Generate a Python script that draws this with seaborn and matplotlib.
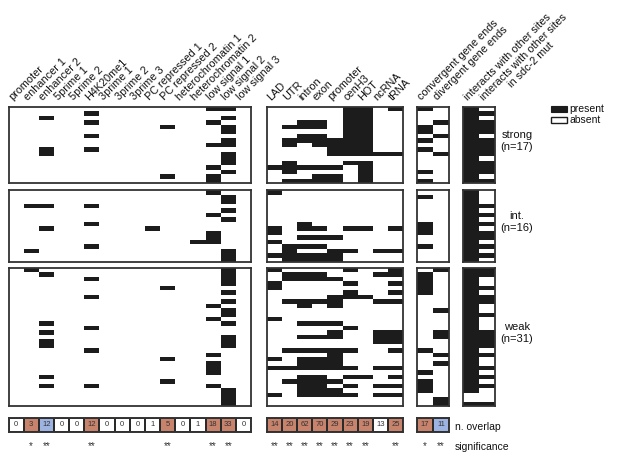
import numpy as np
import matplotlib
matplotlib.use("Agg")
import matplotlib.pyplot as plt
import seaborn as sns
from matplotlib.colors import ListedColormap
from matplotlib.patches import Rectangle

# ---------------- data ----------------
chrom_states = ["promoter", "enhancer 1", "enhancer 2", "5prime 1", "5prime 2", "H4K20me1",
                "3prime 1", "3prime 2", "3prime 3", "PC repressed 1", "PC repressed 2",
                "heterochromatin 1", "heterochromatin 2", "low signal 1", "low signal 2",
                "low signal 3"]
features = ["LAD", "UTR", "intron", "exon", "promoter", "cenH3", "HOT", "ncRNA", "tRNA"]
gene_ends = ["convergent gene ends", "divergent gene ends"]
interactions = ["interacts with other sites", "interacts with other sites\nin sdc-2 mut"]

row_groups = ["strong", "int.", "weak"]
row_counts = [17, 16, 31]

strong_chrom = ["0000000000000110", "0000010000000000", "0010000000000010", "0000010000000100",
                "0000000000100010", "0000000000000010", "0000010000000000", "0000000000000010",
                "0000000000000110", "0010010000000000", "0010000000000010", "0000000000000010",
                "0000000000000010", "0000000000000100", "0000000000000010", "0000000000100100",
                "0000000000000100"]
strong_feat = ["000001101", "000001100", "000001100", "001101100", "011101100", "000001100",
               "001101100", "011111100", "010111100", "000011100", "000011111", "000000000",
               "010001100", "111110100", "010000100", "000110100", "011110100"]
strong_ends = ["10", "00", "00", "01", "10", "10", "01", "10", "00", "10", "01", "00", "00",
               "00", "10", "00", "10"]
strong_inter = ["10", "11", "10", "11", "11", "11", "10", "11", "11", "11", "11", "10", "11",
                "11", "11", "10", "11"]

int_chrom = ["0000000000000100", "0000000000000010", "0000000000000010", "0110010000000000",
             "0000000000000010", "0000000000000100", "0000000000000010", "0000010000000000",
             "0010000001000000", "0000000000000100", "0000000000000100", "0000000000001100",
             "0000010000000000", "0100000000000010", "0000000000000010", "0000000000000010"]
int_feat = ["100000000", "000000000", "000000000", "000000000", "000000000", "000000000",
            "000000000", "001000000", "101101101", "100000000", "001110000", "100000000",
            "011100000", "010011011", "111110000", "011110000"]
int_ends = ["00", "10", "00", "00", "00", "00", "00", "10", "10", "10", "00", "00", "10", "00",
            "00", "00"]
int_inter = ["10", "10", "10", "11", "10", "11", "10", "11", "10", "11", "11", "10", "11", "10",
             "11", "10"]

weak_chrom = ["0100000000000010", "0010000000000010", "0000010000000010", "0000000000000010",
              "0000000000100000", "0000000000000010", "0000010000000000", "0000000000000010",
              "0000000000000100", "0000000000000010", "0000000000000010", "0000000000000100",
              "0010000000000010", "0000010000000000", "0010000000000000", "0000000000000010",
              "0010000000000010", "0010000000000010", "0000010000000000", "0000000000000100",
              "0000000000100000", "0000000000000100", "0000000000000100", "0000000000000100",
              "0010000000000000", "0000000000100000", "0010010000000100", "0000000000000010",
              "0000000000000010", "0000000000000010", "0000000000000010"]
weak_feat = ["100001001", "011100011", "011110000", "100001001", "100000000", "000001001",
             "000011100", "011110011", "001010000", "000000000", "000000000", "100000000",
             "001110000", "000001000", "000010011", "001110011", "000000011", "000000000",
             "011111001", "000010000", "101110000", "001110000", "111111011", "000000000",
             "001101101", "011110000", "001101011", "001110000", "101111011", "000000000",
             "000000000"]
weak_ends = ["01", "10", "10", "10", "10", "10", "00", "00", "00", "01", "00", "00", "00", "00",
             "01", "01", "00", "00", "10", "01", "00", "01", "00", "10", "00", "10", "10", "10",
             "00", "01", "01"]
weak_inter = ["11", "11", "10", "10", "11", "10", "11", "11", "10", "10", "11", "10", "10", "10",
              "11", "11", "11", "11", "10", "11", "10", "10", "11", "10", "11", "10", "11", "10",
              "00", "00", "11"]

overlap_chrom = [0, 3, 12, 0, 0, 12, 0, 0, 0, 1, 5, 0, 1, 18, 33, 0]
enrich_chrom = [0, 1, 2, 0, 0, 1, 0, 0, 0, 0, 1, 0, 0, 1, 1, 0]
signif_chrom = ["", "*", "**", "", "", "**", "", "", "", "", "**", "", "", "**", "**", ""]
overlap_feat = [14, 20, 62, 70, 29, 23, 19, 13, 25]
enrich_feat = [1, 1, 1, 1, 1, 1, 1, 0, 1]
signif_feat = ["**", "**", "**", "**", "**", "**", "**", "", "**"]
overlap_ends = [17, 11]
enrich_ends = [1, 2]
signif_ends = ["*", "**"]

# ---------------- style ----------------
sns.set_theme(style="white")
plt.rcParams["font.family"] = ["Liberation Sans", "DejaVu Sans"]

W, H = 617, 463
BLACK = "#1c1c1c"
RED = "#c8836d"
BLUE = "#9db3e2"
EDGE = "#333333"
LABEL_FS = 7.8

fig = plt.figure(figsize=(W / 100, H / 100), dpi=100)
renderer = fig.canvas.get_renderer()


def px_axes(x0, y0, x1, y1):
    return fig.add_axes([x0 / W, 1 - y1 / H, (x1 - x0) / W, (y1 - y0) / H])


def frame(ax, lw=1.3):
    for s in ax.spines.values():
        s.set_visible(True)
        s.set_linewidth(lw)
        s.set_color(EDGE)


col_x = [(8.5, 251), (267, 403), (417, 449), (463, 495)]
row_y = [(107, 183), (190, 262), (268, 406)]
blocks = [[strong_chrom, strong_feat, strong_ends, strong_inter],
          [int_chrom, int_feat, int_ends, int_inter],
          [weak_chrom, weak_feat, weak_ends, weak_inter]]

for (y0, y1), grp in zip(row_y, blocks):
    for (x0, x1), rows in zip(col_x, grp):
        arr = np.array([[int(c) for c in r] for r in rows])
        ax = px_axes(x0, y0, x1, y1)
        ax.set_facecolor("white")
        sns.heatmap(arr, ax=ax, cmap=ListedColormap(["white", BLACK]), vmin=0, vmax=1,
                    cbar=False, linewidths=0, xticklabels=False, yticklabels=False)
        frame(ax)

# column labels (rotated 45 deg); multi-line labels are centred line by line
c45 = np.sqrt(0.5)
line_gap = 11.0
for (x0, x1), labels in zip(col_x, [chrom_states, features, gene_ends, interactions]):
    w = (x1 - x0) / len(labels)
    for j, lab in enumerate(labels):
        cx = x0 + (j + 0.5) * w
        sx, sy = cx - 3, 101
        lines = lab.split("\n")
        fig.text(sx / W, 1 - sy / H, lines[0], rotation=45, rotation_mode="anchor",
                 ha="left", va="baseline", fontsize=LABEL_FS, color="#111")
        if len(lines) > 1:
            tmp = fig.text(0, 0, lines[0], fontsize=LABEL_FS)
            L = tmp.get_window_extent(renderer).width
            tmp.remove()
            for k, extra in enumerate(lines[1:], start=1):
                mx = sx + (L / 2) * c45 + k * line_gap * c45
                my = sy - (L / 2) * c45 + k * line_gap * c45
                fig.text(mx / W, 1 - my / H, extra, rotation=45, rotation_mode="anchor",
                         ha="center", va="baseline", fontsize=LABEL_FS, color="#111")

# row group labels
for (y0, y1), name, n in zip(row_y, row_groups, row_counts):
    cy = (y0 + y1) / 2 - 4
    fig.text(517 / W, 1 - cy / H, f"{name}\n(n={n})", ha="center", va="center",
             fontsize=8, linespacing=1.35, color="#111")

# legend
lax = px_axes(548, 100, 617, 126)
lax.set_xlim(548, 617)
lax.set_ylim(126, 100)
lax.axis("off")
lax.add_patch(Rectangle((551, 106), 16, 6, facecolor=BLACK, edgecolor=BLACK, lw=0.8))
lax.add_patch(Rectangle((551, 117), 16, 6, facecolor="white", edgecolor=BLACK, lw=1.0))
lax.text(569, 108.5, "present", ha="left", va="center", fontsize=7.5, color="#111")
lax.text(569, 120, "absent", ha="left", va="center", fontsize=7.5, color="#111")

# overlap counts + significance
for (x0, x1), cnt, enr, sig in zip(col_x[:3],
                                  [overlap_chrom, overlap_feat, overlap_ends],
                                  [enrich_chrom, enrich_feat, enrich_ends],
                                  [signif_chrom, signif_feat, signif_ends]):
    ax = px_axes(x0, 418, x1, 432)
    sns.heatmap(np.array([enr]), ax=ax, cmap=ListedColormap(["white", RED, BLUE]),
                vmin=-0.5, vmax=2.5, annot=np.array([cnt]), fmt="d",
                annot_kws={"size": 5.5, "color": "#333"}, linewidths=1.2,
                linecolor="#2a2a2a", cbar=False, xticklabels=False, yticklabels=False)
    frame(ax, 1.4)
    for j, s in enumerate(sig):
        ax.text(j + 0.5, 2.0, s, ha="center", va="center", fontsize=7, color="#333",
                clip_on=False)

fig.text(455 / W, 1 - 427 / H, "n. overlap", ha="left", va="center", fontsize=7.5, color="#111")
fig.text(455 / W, 1 - 447 / H, "significance", ha="left", va="center", fontsize=7.5,
         color="#111")

fig.savefig("out.png", dpi=100)
